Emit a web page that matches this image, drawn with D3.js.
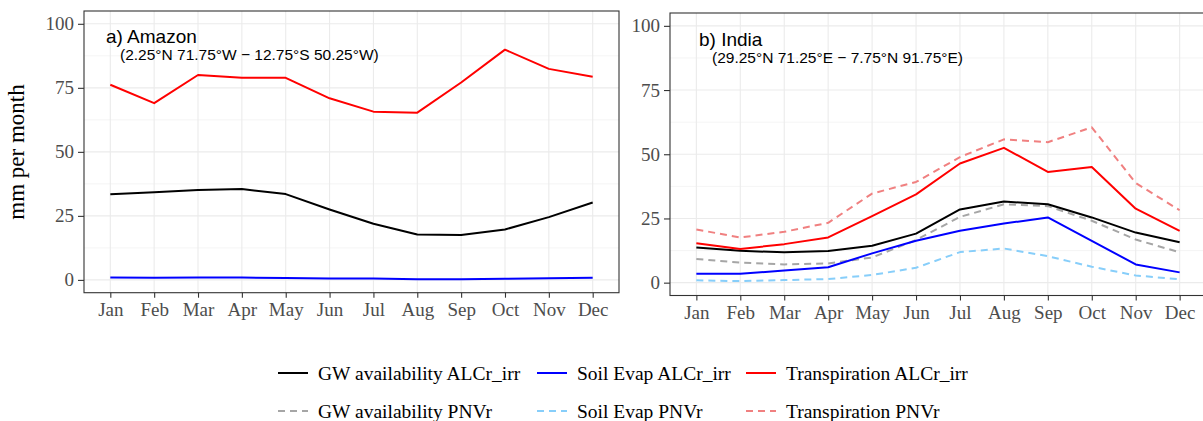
<!doctype html>
<html>
<head>
    <meta charset="utf-8">
    <title>GW availability, soil evaporation and transpiration</title>
    <style type="text/css">
        body { margin: 0; background: #fff; }
        .grid-major { stroke: #ebebeb; stroke-width: 1.1; }
        .grid-minor { stroke: #ebebeb; stroke-width: 0.55; }
        .border { fill: none; stroke: #333333; stroke-width: 1.1; }
        .axis text { font-family: "Liberation Serif", serif; font-size: 19px; fill: #4d4d4d; }
        .axis line { stroke: #333333; stroke-width: 1.1; }
        .axis path { display: none; }
        .line { fill: none; stroke-width: 2; stroke-linejoin: round; }
        .title { font-family: "Liberation Sans", Arial, sans-serif; fill: #000; }
        .legend text { font-family: "Liberation Serif", serif; font-size: 19.5px; fill: #000; }
    </style>
</head>
<body>
<div id="plot"></div>

<script src="https://d3js.org/d3.v7.min.js"></script>
<script>

    // data
    var months = ["Jan", "Feb", "Mar", "Apr", "May", "Jun", "Jul", "Aug", "Sep", "Oct", "Nov", "Dec"];
    var yTicks = [0, 25, 50, 75, 100];
    var yMinor = [12.5, 37.5, 62.5, 87.5];

    // a) Amazon
    var amazonGW     = [33.4, 34.2, 35.1, 35.5, 33.5, 27.5, 21.9, 17.7, 17.5, 19.7, 24.5, 30.2];
    var amazonSoil   = [0.9, 0.8, 0.9, 0.9, 0.7, 0.5, 0.5, 0.3, 0.3, 0.4, 0.6, 0.8];
    var amazonTransp = [76.2, 69.0, 80.0, 78.9, 78.9, 70.9, 65.7, 65.3, 77.1, 89.9, 82.4, 79.3];

    // b) India
    var indiaGW         = [13.7, 12.4, 11.8, 12.3, 14.4, 19.1, 28.5, 31.6, 30.5, 25.4, 19.5, 15.7];
    var indiaGWPnv      = [9.2, 7.8, 7.1, 7.5, 9.8, 16.6, 25.6, 30.5, 29.8, 24.1, 16.8, 11.8];
    var indiaSoil       = [3.5, 3.5, 4.7, 6.0, 11.4, 16.3, 20.2, 23.0, 25.4, 16.3, 7.1, 4.0];
    var indiaSoilPnv    = [0.9, 0.6, 1.0, 1.4, 3.0, 5.8, 11.9, 13.3, 10.3, 6.2, 2.8, 1.3];
    var indiaTransp     = [15.3, 13.1, 15.0, 17.6, 25.9, 34.4, 46.4, 52.5, 43.1, 45.0, 28.8, 20.2];
    var indiaTranspPnv  = [20.7, 17.6, 19.8, 23.3, 34.7, 39.2, 48.9, 55.8, 54.7, 60.5, 38.8, 28.2];

    var legendLabels = [
        "GW availability ALCr_irr", "Soil Evap ALCr_irr", "Transpiration ALCr_irr",
        "GW availability PNVr", "Soil Evap PNVr", "Transpiration PNVr"
    ];

    // styles for each series, same order as the legend
    var colors = ["#000000", "#0000ff", "#ff0000", "#a6a6a6", "#87cefa", "#f08080"];
    var dashes = [null, null, null, "7,5", "7,5", "7,5"];

    var width = 1203, height = 421;

    var svg = d3.select("#plot").append("svg")
        .attr("width", width)
        .attr("height", height);

    // y axis title
    svg.append("text")
        .attr("transform", "translate(24,152) rotate(-90)")
        .attr("text-anchor", "middle")
        .style("font-family", "Liberation Serif, serif")
        .style("font-size", "23px")
        .text("mm per month");

    var panels = [
        {
            left: 84, right: 619, top: 11, bottom: 292.7,
            title: "a) Amazon", sub: "(2.25°N 71.75°W \u2212 12.75°S 50.25°W)",
            titleX: 106, titleY: 43, subX: 120, subY: 60,
            series: [
                { values: amazonGW, k: 0 },
                { values: amazonSoil, k: 1 },
                { values: amazonTransp, k: 2 }
            ]
        },
        {
            left: 670, right: 1206, top: 13, bottom: 295.5,
            title: "b) India", sub: "(29.25°N 71.25°E \u2212 7.75°N 91.75°E)",
            titleX: 699, titleY: 45.5, subX: 712, subY: 63,
            series: [
                { values: indiaGWPnv, k: 3 },
                { values: indiaSoilPnv, k: 4 },
                { values: indiaTranspPnv, k: 5 },
                { values: indiaGW, k: 0 },
                { values: indiaSoil, k: 1 },
                { values: indiaTransp, k: 2 }
            ]
        }
    ];

    panels.forEach(function (p) {
        var x = d3.scalePoint()
            .domain(months)
            .range([p.left, p.right])
            .padding(0.6);

        var y = d3.scaleLinear()
            .domain([-5, 105])
            .range([p.bottom, p.top]);

        var g = svg.append("g");

        // grid
        g.selectAll(".grid-minor")
            .data(yMinor)
            .enter().append("line")
            .attr("class", "grid-minor")
            .attr("x1", p.left).attr("x2", p.right)
            .attr("y1", function (d) { return y(d); })
            .attr("y2", function (d) { return y(d); });

        g.selectAll(".grid-y")
            .data(yTicks)
            .enter().append("line")
            .attr("class", "grid-major grid-y")
            .attr("x1", p.left).attr("x2", p.right)
            .attr("y1", function (d) { return y(d); })
            .attr("y2", function (d) { return y(d); });

        g.selectAll(".grid-x")
            .data(months)
            .enter().append("line")
            .attr("class", "grid-major grid-x")
            .attr("y1", p.top).attr("y2", p.bottom)
            .attr("x1", function (d) { return x(d); })
            .attr("x2", function (d) { return x(d); });

        // lines
        var line = d3.line()
            .x(function (d, i) { return x(months[i]); })
            .y(function (d) { return y(d); });

        p.series.forEach(function (s) {
            g.append("path")
                .datum(s.values)
                .attr("class", "line")
                .attr("stroke", colors[s.k])
                .attr("stroke-dasharray", dashes[s.k])
                .attr("d", line);
        });

        // border
        g.append("rect")
            .attr("class", "border")
            .attr("x", p.left)
            .attr("y", p.top)
            .attr("width", p.right - p.left)
            .attr("height", p.bottom - p.top);

        // axes
        g.append("g")
            .attr("class", "axis")
            .attr("transform", "translate(" + p.left + ",0)")
            .call(d3.axisLeft(y).tickValues(yTicks).tickSize(6).tickPadding(4));

        g.append("g")
            .attr("class", "axis")
            .attr("transform", "translate(0," + p.bottom + ")")
            .call(d3.axisBottom(x).tickSize(5).tickPadding(5));

        // panel titles
        g.append("text")
            .attr("class", "title")
            .attr("x", p.titleX).attr("y", p.titleY)
            .style("font-size", "19px")
            .text(p.title);

        g.append("text")
            .attr("class", "title")
            .attr("x", p.subX).attr("y", p.subY)
            .style("font-size", "15.5px")
            .text(p.sub);
    });

    // legend, 2 rows x 3 columns
    var colX = [278, 537, 746];
    var rowY = [373, 411];

    var legend = svg.append("g").attr("class", "legend");

    var items = legend.selectAll("g")
        .data(legendLabels)
        .enter().append("g")
        .attr("transform", function (d, i) {
            return "translate(" + colX[i % 3] + "," + rowY[Math.floor(i / 3)] + ")";
        });

    items.append("line")
        .attr("x1", 0).attr("x2", 30)
        .attr("y1", 0).attr("y2", 0)
        .attr("stroke", function (d, i) { return colors[i]; })
        .attr("stroke-width", 2)
        .attr("stroke-dasharray", function (d, i) { return dashes[i]; });

    items.append("text")
        .attr("x", 40)
        .attr("dy", "0.35em")
        .text(function (d) { return d; });

</script>
</body>
</html>
